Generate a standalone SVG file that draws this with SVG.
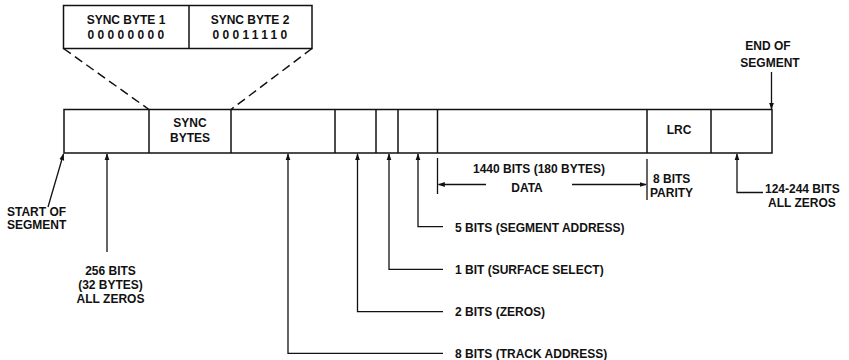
<svg xmlns="http://www.w3.org/2000/svg" width="849" height="360" viewBox="0 0 849 360">
<style>
text{font-family:"Liberation Sans",Arial,sans-serif;font-size:12px;font-weight:bold;fill:#111}
.box{fill:none;stroke:#111;stroke-width:1.5}
.ln{fill:none;stroke:#111;stroke-width:1.3}
.dash{fill:none;stroke:#111;stroke-width:1.5;stroke-dasharray:9 5}
.m{text-anchor:middle}
.z{letter-spacing:3.3px}
</style>
<defs>
<marker id="ah" viewBox="0 0 10 10" refX="9" refY="5" markerWidth="7" markerHeight="8" markerUnits="userSpaceOnUse" orient="auto">
<path d="M0,1.5 L10,5 L0,8.5 Z" fill="#111"/>
</marker>
</defs>
<rect width="849" height="360" fill="#fff"/>

<g id="sync-detail">
<rect class="box" x="63.5" y="5.5" width="248.5" height="43"/>
<line class="box" x1="189" y1="5.5" x2="189" y2="48.5"/>
<text class="m" x="126" y="24">SYNC BYTE 1</text>
<text class="m z" x="127.5" y="39">00000000</text>
<text class="m" x="250" y="24">SYNC BYTE 2</text>
<text class="m z" x="251.5" y="39">00011110</text>
</g>

<g id="segment">
<rect class="box" x="64" y="109.5" width="708" height="43.5"/>
<line class="box" x1="149" y1="109.5" x2="149" y2="153"/>
<line class="box" x1="231" y1="109.5" x2="231" y2="153"/>
<line class="box" x1="335" y1="109.5" x2="335" y2="153"/>
<line class="box" x1="376" y1="109.5" x2="376" y2="153"/>
<line class="box" x1="398" y1="109.5" x2="398" y2="153"/>
<line class="box" x1="437.5" y1="109.5" x2="437.5" y2="153"/>
<line class="box" x1="647" y1="109.5" x2="647" y2="153"/>
<line class="box" x1="711" y1="109.5" x2="711" y2="153"/>
<text class="m" x="190" y="127">SYNC</text>
<text class="m" x="190" y="142">BYTES</text>
<text class="m" x="679" y="134">LRC</text>
</g>

<g id="labels">
<text class="m" x="768" y="50">END OF</text>
<text class="m" x="770" y="67">SEGMENT</text>
<text x="7" y="216">START OF</text>
<text x="7" y="229">SEGMENT</text>
<text class="m" x="110.5" y="275">256 BITS</text>
<text class="m" x="110.5" y="289">(32 BYTES)</text>
<text class="m" x="110.5" y="303">ALL ZEROS</text>
<text x="473" y="173">1440 BITS (180 BYTES)</text>
<text class="m" x="527" y="192">DATA</text>
<text x="653" y="183">8 BITS</text>
<text x="650" y="197">PARITY</text>
<text x="765" y="193">124-244 BITS</text>
<text x="768" y="207">ALL ZEROS</text>
<text x="455" y="231.5">5 BITS (SEGMENT ADDRESS)</text>
<text x="455" y="274">1 BIT (SURFACE SELECT)</text>
<text x="455" y="316">2 BITS (ZEROS)</text>
<text x="455" y="358">8 BITS (TRACK ADDRESS)</text>
</g>

<g id="connectors">
<line class="dash" x1="63.5" y1="48.5" x2="149" y2="109.5"/>
<line class="dash" x1="312" y1="48.5" x2="231" y2="109.5"/>
<line class="ln" x1="771.5" y1="72" x2="771.5" y2="109" marker-end="url(#ah)"/>
<line class="ln" x1="48" y1="207" x2="63.5" y2="154" marker-end="url(#ah)"/>
<line class="ln" x1="107" y1="252" x2="107" y2="154" marker-end="url(#ah)"/>
<polyline class="ln" points="443,353.3 288,353.3 288,154" marker-end="url(#ah)"/>
<polyline class="ln" points="443,311.7 357.5,311.7 357.5,154" marker-end="url(#ah)"/>
<polyline class="ln" points="443,269.3 389,269.3 389,154" marker-end="url(#ah)"/>
<polyline class="ln" points="443,226.7 418,226.7 418,154" marker-end="url(#ah)"/>
<polyline class="ln" points="763,192.5 737,192.5 737,154" marker-end="url(#ah)"/>
<line class="ln" x1="437.5" y1="158" x2="437.5" y2="194"/>
<line class="ln" x1="647" y1="159" x2="647" y2="200"/>
<line class="ln" x1="486" y1="184.5" x2="438.5" y2="184.5" marker-end="url(#ah)"/>
<line class="ln" x1="572" y1="184.5" x2="646" y2="184.5" marker-end="url(#ah)"/>
</g>
</svg>
